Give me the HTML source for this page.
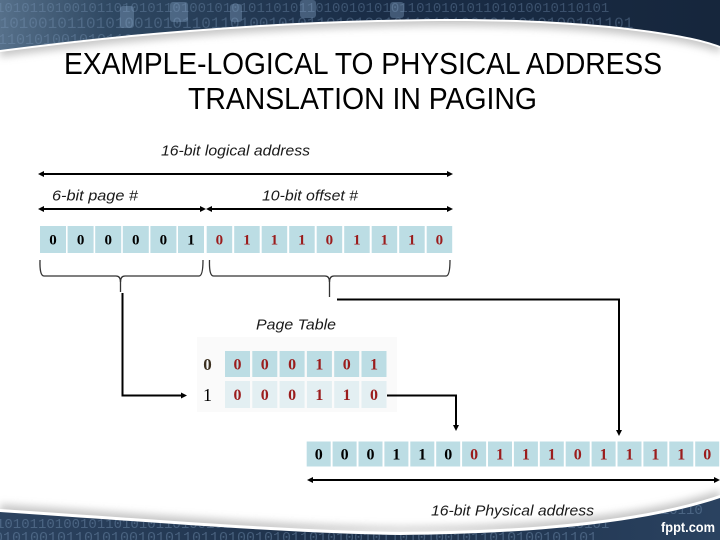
<!DOCTYPE html>
<html>
<head>
<meta charset="utf-8">
<style>
html,body{margin:0;padding:0;background:#fff;}
svg{display:block;}
.lbl{font-family:"Liberation Sans",sans-serif;font-style:italic;font-size:15px;fill:#1a1a1a;}
.dg{font-family:"Liberation Serif",serif;font-weight:bold;text-anchor:middle;}
</style>
</head>
<body>
<svg width="720" height="540" viewBox="0 0 720 540" xmlns="http://www.w3.org/2000/svg">
<defs>
  <linearGradient id="topg" x1="0" y1="0" x2="1" y2="0">
    <stop offset="0" stop-color="#56708a"/>
    <stop offset="0.15" stop-color="#2f4862"/>
    <stop offset="0.5" stop-color="#1a2d47"/>
    <stop offset="1" stop-color="#16263c"/>
  </linearGradient>
  <linearGradient id="botg" x1="0" y1="0" x2="1" y2="0">
    <stop offset="0" stop-color="#2c4360"/>
    <stop offset="0.5" stop-color="#1c2f48"/>
    <stop offset="1" stop-color="#2a4260"/>
  </linearGradient>
  <filter id="sh" x="-10%" y="-50%" width="120%" height="200%">
    <feGaussianBlur stdDeviation="4"/>
  </filter>
  <clipPath id="topclip"><path d="M0,0 H720 V46 C680,30 560,18 440,19 C300,20 150,30 0,50 Z"/></clipPath>
  <clipPath id="botclip"><path d="M0,512 C150,522 280,533 400,535 C520,534 640,525 720,498 V540 H0 Z"/></clipPath>
</defs>

<!-- top banner shadow -->
<path d="M0,0 H720 V46 C680,30 560,18 440,19 C300,20 150,30 0,50 Z" fill="#9a9a9a" opacity="0.55" transform="translate(0,7)" filter="url(#sh)"/>
<path d="M0,0 H720 V46 C680,30 560,18 440,19 C300,20 150,30 0,50 Z" fill="#ffffff" transform="translate(0,2)"/>
<path d="M0,0 H720 V46 C680,30 560,18 440,19 C300,20 150,30 0,50 Z" fill="url(#topg)"/>
<g clip-path="url(#topclip)" font-family="Liberation Mono, monospace" fill="#7e9cbc" opacity="0.35">
  <text x="-4" y="12" font-size="14">1010110100101101010110100101010110101101001010101101010101101010010110101</text>
  <text x="-10" y="28" font-size="16">0101001011010100101011011010010101101010010110101001011010100101101</text>
  <text x="-2" y="44" font-size="15">1101010010101101001010110101001011010101101001010110101001010</text>
</g>
<g clip-path="url(#topclip)" fill="#8fb0d0" opacity="0.35">
  <rect x="120" y="6" width="14" height="22" rx="3"/>
  <rect x="170" y="2" width="18" height="20" rx="3"/>
  <rect x="230" y="4" width="12" height="18" rx="3"/>
  <rect x="300" y="0" width="16" height="18" rx="3"/>
  <rect x="390" y="2" width="14" height="16" rx="3"/>
</g>

<!-- bottom banner shadow -->
<path d="M0,512 C150,522 280,533 400,535 C520,534 640,525 720,498 V540 H0 Z" fill="#9a9a9a" opacity="0.55" transform="translate(0,-8)" filter="url(#sh)"/>
<path d="M0,512 C150,522 280,533 400,535 C520,534 640,525 720,498 V540 H0 Z" fill="#ffffff" transform="translate(0,-3)"/>
<path d="M0,512 C150,522 280,533 400,535 C520,534 640,525 720,498 V540 H0 Z" fill="url(#botg)"/>
<g clip-path="url(#botclip)" font-family="Liberation Mono, monospace" fill="#7e9cbc" opacity="0.4">
  <text x="-4" y="528" font-size="14">1010110100101101010110100101010110101101001010101101010101101010010110101</text>
  <text x="-6" y="542" font-size="15">0101001011010100101011011010010101101010010110101001011010100101101</text>
  <text x="560" y="514" font-size="14">10101101010010110</text>
</g>
<text x="661" y="532" font-family="Liberation Sans, sans-serif" font-weight="bold" font-size="14" fill="#ffffff" textLength="54" lengthAdjust="spacingAndGlyphs">fppt.com</text>

<!-- title -->
<text x="64" y="74" font-family="Liberation Sans, sans-serif" font-size="31" fill="#000" textLength="598" lengthAdjust="spacingAndGlyphs">EXAMPLE-LOGICAL TO PHYSICAL ADDRESS</text>
<text x="188" y="109" font-family="Liberation Sans, sans-serif" font-size="31" fill="#000" textLength="349" lengthAdjust="spacingAndGlyphs">TRANSLATION IN PAGING</text>

<!-- labels -->
<text class="lbl" x="161" y="155.5" textLength="149" lengthAdjust="spacingAndGlyphs">16-bit logical address</text>
<text class="lbl" x="52" y="200.5" textLength="86" lengthAdjust="spacingAndGlyphs">6-bit page #</text>
<text class="lbl" x="262" y="200.5" textLength="96" lengthAdjust="spacingAndGlyphs">10-bit offset #</text>
<text class="lbl" x="256" y="329.5" textLength="80" lengthAdjust="spacingAndGlyphs">Page Table</text>
<text class="lbl" x="431" y="515.5" textLength="163" lengthAdjust="spacingAndGlyphs">16-bit Physical address</text>

<!-- logical arrows -->
<g stroke="#000" stroke-width="2" fill="none">
  <line x1="42" y1="174" x2="449" y2="174"/>
  <line x1="42" y1="209" x2="203" y2="209"/>
  <line x1="209" y1="209" x2="449" y2="209"/>
</g>
<g fill="#000">
  <polygon points="38,174 44,171 44,177"/>
  <polygon points="453,174 447,171 447,177"/>
  <polygon points="38,209 44,206 44,212"/>
  <polygon points="206,209 200,206 200,212"/>
  <polygon points="206,209 212,206 212,212"/>
  <polygon points="453,209 447,206 447,212"/>
</g>

<!-- logical cells -->
<g fill="#bcdde4">
  <rect x="40" y="226" width="26" height="27"/>
  <rect x="67.6" y="226" width="26" height="27"/>
  <rect x="95.2" y="226" width="26" height="27"/>
  <rect x="122.8" y="226" width="26" height="27"/>
  <rect x="150.4" y="226" width="26" height="27"/>
  <rect x="178" y="226" width="26" height="27"/>
  <rect x="206.7" y="226" width="25.5" height="27"/>
  <rect x="234.2" y="226" width="25.5" height="27"/>
  <rect x="261.7" y="226" width="25.5" height="27"/>
  <rect x="289.2" y="226" width="25.5" height="27"/>
  <rect x="316.7" y="226" width="25.5" height="27"/>
  <rect x="344.2" y="226" width="25.5" height="27"/>
  <rect x="371.7" y="226" width="25.5" height="27"/>
  <rect x="399.2" y="226" width="25.5" height="27"/>
  <rect x="426.7" y="226" width="25.5" height="27"/>
</g>
<g class="dg" font-size="15" fill="#000">
  <text x="53" y="244.5">0</text>
  <text x="80.6" y="244.5">0</text>
  <text x="108.2" y="244.5">0</text>
  <text x="135.8" y="244.5">0</text>
  <text x="163.4" y="244.5">0</text>
  <text x="191" y="244.5">1</text>
</g>
<g class="dg" font-size="15" fill="#9b1c1c">
  <text x="219.4" y="244.5">0</text>
  <text x="246.9" y="244.5">1</text>
  <text x="274.4" y="244.5">1</text>
  <text x="301.9" y="244.5">1</text>
  <text x="329.4" y="244.5">0</text>
  <text x="356.9" y="244.5">1</text>
  <text x="384.4" y="244.5">1</text>
  <text x="411.9" y="244.5">1</text>
  <text x="439.4" y="244.5">0</text>
</g>

<!-- braces -->
<g stroke="#333" stroke-width="1.3" fill="none">
  <path d="M40,260 Q39.5,276 44,276 H116 Q120.5,276 120.5,282 V292"/>
  <path d="M120.5,282 Q120.5,276 125,276 H199 Q203,276 203,260"/>
  <path d="M209.5,260 Q209,276 213.5,276 H325 Q329.5,276 329.5,282 V297"/>
  <path d="M329.5,282 Q329.5,276 334,276 H446 Q450,276 450,260"/>
</g>

<!-- page table -->
<rect x="197" y="337" width="200" height="75" fill="#fafafa"/>
<g fill="#bcdde4">
  <rect x="225" y="351" width="25" height="26"/>
  <rect x="252.3" y="351" width="25" height="26"/>
  <rect x="279.6" y="351" width="25" height="26"/>
  <rect x="306.9" y="351" width="25" height="26"/>
  <rect x="334.2" y="351" width="25" height="26"/>
  <rect x="361.5" y="351" width="25" height="26"/>
</g>
<g fill="#e3eff2">
  <rect x="225" y="381" width="25" height="27"/>
  <rect x="252.3" y="381" width="25" height="27"/>
  <rect x="279.6" y="381" width="25" height="27"/>
  <rect x="306.9" y="381" width="25" height="27"/>
  <rect x="334.2" y="381" width="25" height="27"/>
  <rect x="361.5" y="381" width="25" height="27"/>
</g>
<text class="dg" x="207.5" y="370" font-size="17" fill="#3b3020">0</text>
<text x="207.5" y="401" font-family="Liberation Serif, serif" font-size="18" text-anchor="middle" fill="#000">1</text>
<g class="dg" font-size="16" fill="#9b1c1c">
  <text x="237.5" y="369.5">0</text>
  <text x="264.8" y="369.5">0</text>
  <text x="292.1" y="369.5">0</text>
  <text x="319.4" y="369.5">1</text>
  <text x="346.7" y="369.5">0</text>
  <text x="374" y="369.5">1</text>
  <text x="237.5" y="400">0</text>
  <text x="264.8" y="400">0</text>
  <text x="292.1" y="400">0</text>
  <text x="319.4" y="400">1</text>
  <text x="346.7" y="400">1</text>
  <text x="374" y="400">0</text>
</g>

<!-- connectors -->
<g stroke="#000" fill="none">
  <polyline points="122.5,293 122.5,395.5 181,395.5" stroke-width="2"/>
  <polyline points="337,299.5 619,299.5 619,430" stroke-width="2"/>
  <polyline points="387,395.5 456,395.5 456,425" stroke-width="2"/>
</g>
<g fill="#000">
  <polygon points="187,395.5 181,392.5 181,398.5"/>
  <polygon points="619,436 616,430 622,430"/>
  <polygon points="456,431 453,425 459,425"/>
</g>

<!-- physical cells -->
<g fill="#bcdde4">
  <rect x="306.7" y="441.5" width="24" height="25"/>
  <rect x="332.6" y="441.5" width="24" height="25"/>
  <rect x="358.5" y="441.5" width="24" height="25"/>
  <rect x="384.4" y="441.5" width="24" height="25"/>
  <rect x="410.3" y="441.5" width="24" height="25"/>
  <rect x="436.2" y="441.5" width="24" height="25"/>
  <rect x="462.1" y="441.5" width="24" height="25"/>
  <rect x="488" y="441.5" width="24" height="25"/>
  <rect x="513.9" y="441.5" width="24" height="25"/>
  <rect x="539.8" y="441.5" width="24" height="25"/>
  <rect x="565.7" y="441.5" width="24" height="25"/>
  <rect x="591.6" y="441.5" width="24" height="25"/>
  <rect x="617.5" y="441.5" width="24" height="25"/>
  <rect x="643.4" y="441.5" width="24" height="25"/>
  <rect x="669.3" y="441.5" width="24" height="25"/>
  <rect x="695.2" y="441.5" width="24" height="25"/>
</g>
<g class="dg" font-size="16" fill="#000">
  <text x="318.7" y="459.5">0</text>
  <text x="344.6" y="459.5">0</text>
  <text x="370.5" y="459.5">0</text>
  <text x="396.4" y="459.5">1</text>
  <text x="422.3" y="459.5">1</text>
  <text x="448.2" y="459.5">0</text>
</g>
<g class="dg" font-size="16" fill="#9b1c1c">
  <text x="474.1" y="459.5">0</text>
  <text x="500" y="459.5">1</text>
  <text x="525.9" y="459.5">1</text>
  <text x="551.8" y="459.5">1</text>
  <text x="577.7" y="459.5">0</text>
  <text x="603.6" y="459.5">1</text>
  <text x="629.5" y="459.5">1</text>
  <text x="655.4" y="459.5">1</text>
  <text x="681.3" y="459.5">1</text>
  <text x="707.2" y="459.5">0</text>
</g>

<!-- physical arrow -->
<line x1="311" y1="480" x2="716" y2="480" stroke="#000" stroke-width="2"/>
<polygon points="307,480 313,477 313,483" fill="#000"/>
<polygon points="720,480 714,477 714,483" fill="#000"/>
</svg>
</body>
</html>
